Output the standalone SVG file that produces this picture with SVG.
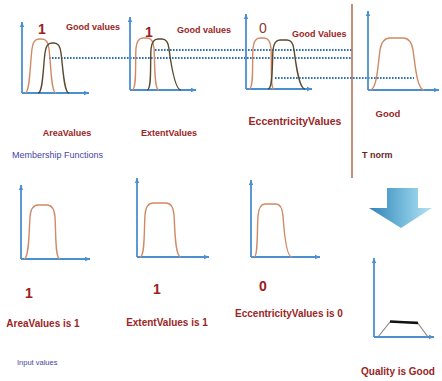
<svg xmlns="http://www.w3.org/2000/svg" width="442" height="381" viewBox="0 0 442 381">
  <style>
    .ax{fill:none;stroke:#4a8fd0;stroke-width:1.8;marker-end:url(#ah)}
    .o{fill:none;stroke:#d08a66;stroke-width:1.4}
    .d{fill:none;stroke:#5a4a30;stroke-width:1.4}
    .dot{fill:none;stroke:#2f6fb8;stroke-width:1.8;stroke-dasharray:1.6 1.4}
    .lbl{font-family:"Liberation Sans",Arial,sans-serif;font-weight:bold;fill:#9b2525}
    .num{font-family:"Liberation Sans",Arial,sans-serif;font-weight:bold;fill:#9b2020;font-size:14px}
    .cap{font-family:"Liberation Sans",Arial,sans-serif;fill:#4545a5}
  </style>
  <defs>
    <marker id="ah" markerWidth="6" markerHeight="6" refX="5" refY="3" orient="auto" markerUnits="userSpaceOnUse">
      <path d="M0,0.8 L5,3 L0,5.2 Z" fill="#4a8fd0"/>
    </marker>
    <linearGradient id="ag" x1="0" y1="0" x2="1" y2="0">
      <stop offset="0" stop-color="#2f82b8"/>
      <stop offset="0.6" stop-color="#7cc0df"/>
      <stop offset="1" stop-color="#b8e2f2"/>
    </linearGradient>
  </defs>

  <g id="connectors">
    <path class="dot" d="M49,58 H352"/>
    <path class="dot" d="M155,50 H352"/>
    <path class="dot" d="M275,78 H414"/>
  </g>

  <g id="area-mf">
    <path class="ax" d="M22,93 V22"/>
    <path class="ax" d="M22,93 H89"/>
    <path class="o" d="M25,93 C30,93 30,64 32,49 Q33,39 39,39 L42,39 Q48,39 49,49 C51,64 51,93 56,93"/>
    <path class="d" d="M38,93 C43,93 43,68 45,53 Q46,43 52,43 L54,43 Q60,43 61,53 C63,68 64,93 69,93"/>
    <text class="num" x="42" y="34" text-anchor="middle">1</text>
    <text class="lbl" x="66" y="30" font-size="9">Good values</text>
    <text class="lbl" x="67" y="136" font-size="9" text-anchor="middle">AreaValues</text>
  </g>

  <g id="extent-mf">
    <path class="ax" d="M130,90 V17"/>
    <path class="ax" d="M130,90 H196"/>
    <path class="o" d="M132,90 C137,90 135,63 136,48 Q137,38 143,38 L147,38 Q153,38 154,48 C155,63 154,90 159,90"/>
    <path class="d" d="M147,90 C152,90 150,64 151,49 Q152,39 158,39 L162,39 Q168,39 169,49 C171,64 175,90 181,90"/>
    <text class="num" x="149" y="37" text-anchor="middle">1</text>
    <text class="lbl" x="177" y="33" font-size="9">Good values</text>
    <text class="lbl" x="169" y="136" font-size="9" text-anchor="middle">ExtentValues</text>
  </g>

  <g id="ecc-mf">
    <path class="ax" d="M246,89 V14"/>
    <path class="ax" d="M246,89 H312"/>
    <path class="o" d="M249,89 C254,89 252,63 253,48 Q254,38 260,38 L264,38 Q270,38 271,48 C272,63 270,89 274,89"/>
    <path class="d" d="M268,89 C273,89 272,65 273,50 Q274,40 280,40 L287,40 Q293,40 294,50 C296,65 299,89 305,89"/>
    <text x="263" y="33" font-family="'Liberation Sans',Arial,sans-serif" font-size="14" fill="#8a3a2a" text-anchor="middle">0</text>
    <text class="lbl" x="292" y="37" font-size="9">Good Values</text>
    <text class="lbl" x="295" y="125" font-size="10.5" text-anchor="middle">EccentricityValues</text>
  </g>

  <g id="tnorm-divider">
    <path d="M352,4 V178" stroke="#b5735a" stroke-width="1.6"/>
  </g>

  <g id="good-mf">
    <path class="ax" d="M368,90 V11"/>
    <path class="ax" d="M368,90 H439"/>
    <path class="o" d="M370,90 C377,90 378,64 380,50 Q382,38 390,38 L403,38 Q411,38 413,50 C415,64 417,90 424,90"/>
    <text class="lbl" x="388" y="117" font-size="9.5" text-anchor="middle">Good</text>
    <text x="362" y="158" font-family="'Liberation Sans',Arial,sans-serif" font-weight="bold" font-size="9" fill="#6a1f1f">T norm</text>
  </g>

  <text class="cap" x="12" y="158" font-size="9">Membership Functions</text>

  <g id="arrow">
    <path d="M387,188 H418 V208 H432 L401,228 L369,208 H387 Z" fill="url(#ag)"/>
  </g>

  <g id="area-input">
    <path class="ax" d="M21,259 V185"/>
    <path class="ax" d="M21,259 H90"/>
    <path class="o" d="M24,259 C29,259 29,232 30,217 Q31,205 38,205 L47,205 Q54,205 55,217 C56,232 55,259 60,259"/>
    <text class="num" x="29" y="298" text-anchor="middle" font-size="13">1</text>
    <text class="lbl" x="43" y="327" font-size="10" text-anchor="middle">AreaValues is 1</text>
  </g>

  <g id="extent-input">
    <path class="ax" d="M137,257 V178"/>
    <path class="ax" d="M137,257 H209"/>
    <path class="o" d="M140,257 C145,257 144,230 145,215 Q146,203 153,203 L166,203 Q173,203 174,215 C175,230 175,257 181,257"/>
    <text class="num" x="157" y="294" text-anchor="middle" font-size="13">1</text>
    <text class="lbl" x="167" y="326" font-size="10" text-anchor="middle">ExtentValues is 1</text>
  </g>

  <g id="ecc-input">
    <path class="ax" d="M251,257 V180"/>
    <path class="ax" d="M251,257 H320"/>
    <path class="o" d="M254,257 C258,257 257,231 258,216 Q259,204 265,204 L276,204 Q282,204 283,216 C284,231 286,257 292,257"/>
    <text class="num" x="263" y="291" text-anchor="middle" font-size="13">0</text>
    <text class="lbl" x="289" y="317" font-size="10" text-anchor="middle">EccentricityValues is 0</text>
  </g>

  <g id="quality">
    <path class="ax" d="M374,337 V258"/>
    <path class="ax" d="M374,337 H434"/>
    <path d="M378,337 L390,322 L417,322 L428,337" fill="none" stroke="#8a8a8a" stroke-width="1.2"/>
    <path d="M390,321.5 L418,323" stroke="#111" stroke-width="2.6"/>
    <text class="lbl" x="398" y="375" font-size="10" text-anchor="middle">Quality is Good</text>
  </g>

  <text class="cap" x="17" y="365" font-size="7.5">Input values</text>
</svg>
